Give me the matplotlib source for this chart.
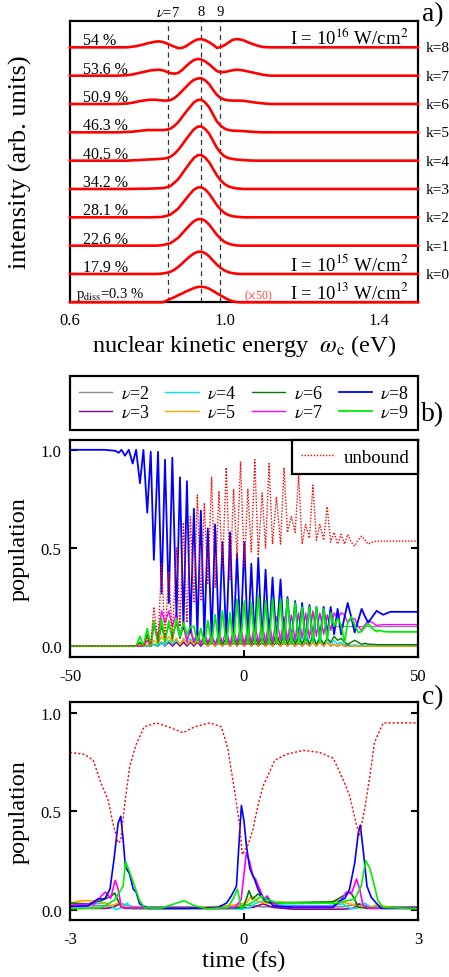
import matplotlib
matplotlib.use('Agg')
import matplotlib.pyplot as plt
import matplotlib.transforms as mtransforms
import numpy as np

plt.rcParams['font.family'] = ['Liberation Serif', 'DejaVu Serif']
plt.rcParams['mathtext.fontset'] = 'stix'
plt.rcParams['axes.unicode_minus'] = False

# ---------------- panel a: spectra ----------------
energy = [0.60,
          0.72, 0.73, 0.74, 0.75, 0.76, 0.77, 0.78, 0.79, 0.80, 0.81,
          0.82, 0.83, 0.84, 0.85, 0.86, 0.87, 0.88, 0.89, 0.90, 0.91,
          0.92, 0.93, 0.94, 0.95, 0.96, 0.97, 0.98, 0.99, 1.00, 1.01,
          1.02, 1.03, 1.04, 1.05, 1.06, 1.07, 1.08, 1.09, 1.10, 1.11,
          1.12, 1.50]
spec_low = [0,
            0, 0, 0, 0, 0, 0, 0, 0, 0, 0,
            0, 0, 0, .06, .12, .18, .25, .31, .38, .44,
            .50, .54, .55, .53, .48, .40, .32, .24, .16, .09,
            .04, .01, 0, 0, 0, 0, 0, 0, 0, 0,
            0, 0]
spec_k0 = [0,
           0, 0, 0, 0, 0, 0, 0, 0, 0, 0,
           0, .005, .02, .04, .08, .15, .25, .37, .50, .62,
           .72, .78, .79, .73, .62, .47, .33, .21, .12, .06,
           .03, .01, 0, 0, 0, 0, 0, 0, 0, 0,
           0, 0]
spec_k1 = [0,
           0, 0, 0, 0, 0, 0, 0, 0, 0, 0,
           0, .005, .02, .05, .09, .18, .28, .43, .58, .73,
           .86, .93, .94, .87, .74, .56, .38, .24, .13, .07,
           .03, .01, 0, 0, 0, 0, 0, 0, 0, 0,
           0, 0]
spec_k2 = [0,
           0, 0, 0, 0, 0, 0, 0, 0, 0, 0,
           .005, .01, .02, .05, .10, .20, .31, .48, .65, .82,
           .97, 1.05, 1.06, .98, .83, .63, .43, .27, .15, .08,
           .04, .02, .01, 0, 0, 0, 0, 0, 0, 0,
           0, 0]
spec_k3 = [0,
           0, 0, 0, 0, .005, .005, .01, .01, .01, .015,
           .02, .025, .03, .06, .11, .22, .35, .54, .73, .92,
           1.09, 1.19, 1.20, 1.10, .94, .71, .48, .30, .17, .09,
           .05, .02, .01, 0, 0, 0, 0, 0, 0, 0,
           0, 0]
spec_k4 = [0,
           0, 0, 0, 0, .01, .015, .02, .03, .04, .045,
           .05, .06, .07, .09, .14, .24, .38, .56, .75, .93,
           1.10, 1.20, 1.21, 1.11, .95, .70, .45, .27, .15, .09,
           .06, .04, .03, .02, .01, .005, 0, 0, 0, 0,
           0, 0]
spec_k5 = [0,
           0, 0, .01, .015, .02, .035, .05, .065, .08, .08,
           .08, .08, .08, .09, .13, .23, .36, .54, .72, .89,
           1.05, 1.14, 1.15, 1.05, .88, .63, .38, .23, .13, .08,
           .06, .055, .05, .04, .03, .02, .01, .005, 0, 0,
           0, 0]
spec_k6 = [0,
           0, .005, .01, .02, .04, .07, .10, .12, .14, .15,
           .15, .14, .12, .12, .14, .21, .32, .46, .60, .74,
           .85, .90, .91, .83, .70, .50, .32, .21, .15, .13,
           .12, .12, .12, .11, .09, .07, .05, .035, .02, .01,
           0, 0]
spec_k7 = [0,
           0, .005, .01, .02, .04, .07, .10, .13, .16, .19,
           .20, .21, .19, .14, .09, .07, .10, .20, .33, .45,
           .55, .59, .57, .50, .40, .28, .16, .12, .13, .16,
           .19, .21, .20, .18, .15, .12, .09, .06, .03, .01,
           0, 0]
spec_k8 = [0,
           0, 0, 0, .005, .02, .04, .07, .10, .14, .17,
           .20, .21, .19, .14, .08, .02, -.03, -.02, .04, .13,
           .22, .28, .29, .25, .18, .09, -.02, .01, .08, .17,
           .26, .29, .28, .24, .18, .13, .08, .04, .01, .005,
           0, 0]
spectra = [spec_low, spec_k0, spec_k1, spec_k2, spec_k3, spec_k4, spec_k5, spec_k6, spec_k7, spec_k8]
p_diss = ['17.9 %', '22.6 %', '28.1 %', '34.2 %', '40.5 %', '46.3 %', '50.9 %', '53.6 %', '54 %']
k_labels = ['k=0', 'k=1', 'k=2', 'k=3', 'k=4', 'k=5', 'k=6', 'k=7', 'k=8']
nu_energy = [0.854, 0.940, 0.989]
nu_energy_labels = [r'$\nu$=7', '8', '9']

# ---------------- panel b: populations, long time ----------------
t_b = [-50, -40, -37, -36, -35.2, -34.2, -33.1, -32.0, -31.0, -29.9,
       -28.9, -27.8, -26.8, -25.9, -24.7, -23.7, -22.7, -21.6, -20.6, -19.4,
       -18.4, -17.4, -16.4, -15.4, -14.4, -13.4, -12.4, -11.4, -10.4, -9.3,
       -8.3, -7.2, -6.2, -5.1, -4.0, -3.0, -2.0, -1.0, 0.1, 1.1,
       2.1, 3.1, 4.1, 5.2, 6.2, 7.2, 8.2, 9.3, 10.5, 11.5,
       12.5, 13.6, 14.7, 15.7, 16.7, 17.7, 18.8, 19.8, 20.8, 21.8,
       22.9, 23.9, 24.9, 25.9, 26.9, 27.9, 28.9, 29.8, 30.8, 31.8,
       32.8, 33.8, 34.8, 35.7, 36.9, 38.1, 39.0, 40.0, 42.0, 50.0]
pop_b_nu8 = [1.0, 1.0, 0.995, 0.985, 1.0, 0.97, 1.0, 0.93, 1.0, 0.83,
             1.0, 0.68, 0.99, 0.44, 0.99, 0.27, 0.95, 0.22, 0.96, 0.15,
             0.86, 0.09, 0.84, 0.07, 0.70, 0.06, 0.69, 0.05, 0.60, 0.04,
             0.62, 0.04, 0.53, 0.03, 0.58, 0.03, 0.47, 0.03, 0.53, 0.02,
             0.42, 0.02, 0.45, 0.02, 0.39, 0.02, 0.35, 0.02, 0.34, 0.02,
             0.25, 0.02, 0.23, 0.03, 0.22, 0.03, 0.21, 0.03, 0.20, 0.04,
             0.20, 0.05, 0.20, 0.06, 0.19, 0.06, 0.15, 0.22, 0.15, 0.07,
             0.13, 0.19, 0.15, 0.12, 0.15, 0.18, 0.17, 0.16, 0.175, 0.175]
pop_b_unbound = [0, 0, 0, 0, 0, 0.003, 0, 0.005, 0, 0.01,
                 0, 0.04, 0.01, 0.20, 0.02, 0.42, 0.04, 0.38, 0.04, 0.50,
                 0.10, 0.63, 0.12, 0.66, 0.22, 0.77, 0.23, 0.73, 0.32, 0.86,
                 0.30, 0.79, 0.39, 0.91, 0.34, 0.80, 0.45, 0.94, 0.40, 0.80,
                 0.48, 0.95, 0.46, 0.78, 0.50, 0.93, 0.52, 0.76, 0.52, 0.91,
                 0.58, 0.66, 0.58, 0.87, 0.52, 0.62, 0.55, 0.82, 0.54, 0.62,
                 0.54, 0.71, 0.53, 0.58, 0.52, 0.57, 0.52, 0.57, 0.53, 0.51,
                 0.54, 0.56, 0.54, 0.52, 0.53, 0.535, 0.535, 0.535, 0.535, 0.535]
pop_b_nu9 = [0, 0, 0, 0, 0, 0, 0, 0, 0, 0.05,
             0, 0.09, 0.0, 0.13, 0.01, 0.14, 0.02, 0.13, 0.03, 0.14,
             0.05, 0.12, 0.06, 0.10, 0.10, 0.02, 0.09, 0.01, 0.13, 0.01,
             0.16, 0.01, 0.18, 0.01, 0.17, 0.01, 0.24, 0.01, 0.23, 0.01,
             0.22, 0.01, 0.26, 0.01, 0.23, 0.01, 0.24, 0.01, 0.24, 0.01,
             0.24, 0.01, 0.22, 0.01, 0.20, 0.02, 0.20, 0.02, 0.20, 0.02,
             0.19, 0.03, 0.17, 0.10, 0.14, 0.11, 0.02, 0.12, 0.15, 0.11,
             0.07, 0.075, 0.10, 0.115, 0.09, 0.075, 0.08, 0.075, 0.073, 0.073]
pop_b_nu7 = [0, 0, 0, 0, 0, 0, 0, 0, 0, 0,
             0, 0.03, 0.0, 0.10, 0.05, 0.18, 0.12, 0.18, 0.10, 0.17,
             0.05, 0.12, 0.02, 0.10, 0.02, 0.08, 0.01, 0.07, 0.02, 0.06,
             0.01, 0.07, 0.02, 0.08, 0.01, 0.09, 0.02, 0.10, 0.01, 0.10,
             0.02, 0.12, 0.02, 0.12, 0.02, 0.14, 0.02, 0.15, 0.03, 0.15,
             0.03, 0.16, 0.03, 0.17, 0.04, 0.17, 0.04, 0.18, 0.05, 0.17,
             0.06, 0.16, 0.08, 0.17, 0.14, 0.17, 0.16, 0.12, 0.14, 0.14,
             0.10, 0.08, 0.11, 0.13, 0.12, 0.105, 0.108, 0.11, 0.11, 0.11]
pop_b_nu2 = [0, 0, 0, 0, 0, 0, 0, 0, 0, 0,
             0, 0, 0, 0.01, 0.0, 0.02, 0.01, 0.03, 0.01, 0.03,
             0.01, 0.03, 0.01, 0.03, 0.01, 0.03, 0.01, 0.03, 0.01, 0.03,
             0.01, 0.03, 0.01, 0.04, 0.01, 0.04, 0.01, 0.04, 0.02, 0.05,
             0.02, 0.05, 0.02, 0.05, 0.02, 0.06, 0.03, 0.06, 0.03, 0.07,
             0.04, 0.07, 0.04, 0.08, 0.05, 0.08, 0.06, 0.09, 0.07, 0.09,
             0.08, 0.10, 0.09, 0.10, 0.10, 0.10, 0.10, 0.10, 0.10, 0.10,
             0.10, 0.10, 0.10, 0.10, 0.10, 0.10, 0.10, 0.10, 0.10, 0.10]
pop_b_nu3 = [0, 0, 0, 0, 0, 0, 0, 0, 0, 0,
             0, 0, 0, 0.01, 0.0, 0.02, 0.0, 0.02, 0.0, 0.02,
             0.0, 0.02, 0.0, 0.02, 0.0, 0.02, 0.0, 0.02, 0.0, 0.02,
             0.0, 0.02, 0.0, 0.02, 0.0, 0.02, 0.0, 0.02, 0.0, 0.02,
             0.0, 0.02, 0.0, 0.02, 0.0, 0.02, 0.0, 0.02, 0.0, 0.02,
             0.0, 0.02, 0.0, 0.02, 0.0, 0.02, 0.0, 0.02, 0.0, 0.02,
             0.0, 0.02, 0.0, 0.01, 0.0, 0.01, 0.0, 0.005, 0.0, 0.005,
             0, 0, 0, 0, 0, 0, 0, 0, 0, 0]
pop_b_nu4 = [0, 0, 0, 0, 0, 0, 0, 0, 0, 0,
             0, 0, 0, 0.01, 0.0, 0.02, 0.0, 0.03, 0.01, 0.03,
             0.01, 0.04, 0.01, 0.04, 0.01, 0.04, 0.01, 0.05, 0.01, 0.04,
             0.01, 0.05, 0.01, 0.04, 0.01, 0.05, 0.01, 0.05, 0.01, 0.06,
             0.01, 0.06, 0.01, 0.05, 0.01, 0.06, 0.01, 0.05, 0.01, 0.06,
             0.01, 0.07, 0.01, 0.09, 0.01, 0.08, 0.01, 0.06, 0.01, 0.05,
             0.01, 0.04, 0.01, 0.03, 0.01, 0.02, 0.01, 0.01, 0.005, 0.005,
             0.005, 0.005, 0.005, 0.005, 0.005, 0.005, 0.005, 0.005, 0.005, 0.005]
pop_b_nu5 = [0, 0, 0, 0, 0, 0, 0, 0, 0, 0,
             0, 0.01, 0.0, 0.03, 0.01, 0.05, 0.02, 0.05, 0.02, 0.04,
             0.01, 0.04, 0.01, 0.03, 0.01, 0.03, 0.01, 0.03, 0.0, 0.03,
             0.0, 0.03, 0.0, 0.03, 0.0, 0.03, 0.0, 0.04, 0.0, 0.04,
             0.0, 0.04, 0.0, 0.04, 0.0, 0.04, 0.0, 0.04, 0.0, 0.03,
             0.0, 0.03, 0.0, 0.03, 0.0, 0.03, 0.0, 0.02, 0.0, 0.02,
             0.0, 0.02, 0.0, 0.01, 0.0, 0.01, 0.0, 0.0, 0.0, 0.0,
             0, 0, 0, 0, 0, 0, 0, 0, 0, 0]
pop_b_nu6 = [0, 0, 0, 0, 0, 0, 0, 0, 0, 0.02,
             0, 0.06, 0.0, 0.12, 0.02, 0.10, 0.04, 0.11, 0.05, 0.12,
             0.04, 0.10, 0.03, 0.08, 0.02, 0.06, 0.01, 0.05, 0.01, 0.05,
             0.01, 0.04, 0.01, 0.04, 0.01, 0.04, 0.01, 0.05, 0.01, 0.05,
             0.01, 0.05, 0.01, 0.05, 0.01, 0.05, 0.01, 0.06, 0.01, 0.06,
             0.01, 0.06, 0.01, 0.05, 0.01, 0.05, 0.01, 0.05, 0.01, 0.04,
             0.01, 0.04, 0.02, 0.05, 0.03, 0.04, 0.02, 0.01, 0.02, 0.03,
             0.02, 0.01, 0.015, 0.01, 0.01, 0.008, 0.008, 0.008, 0.008, 0.008]

# ---------------- panel c: populations, zoom around t=0 ----------------
t_c_unbound = [-3.0, -2.75, -2.6, -2.46, -2.345, -2.26, -2.17, -2.125, -2.06, -1.97,
               -1.86, -1.72, -1.51, -1.31, -1.05, -0.85, -0.59, -0.39, -0.28, -0.16,
               -0.075, -0.03, 0.07, 0.155, 0.24, 0.33, 0.41, 0.53, 0.73, 1.02,
               1.30, 1.54, 1.71, 1.82, 1.94, 1.99, 2.08, 2.17, 2.25, 2.40, 2.68, 3.0]
pop_c_unbound = [0.80, 0.79, 0.76, 0.64, 0.56, 0.44, 0.34, 0.35, 0.53, 0.73,
                 0.84, 0.93, 0.95, 0.93, 0.90, 0.93, 0.95, 0.93, 0.82, 0.60,
                 0.43, 0.28, 0.33, 0.41, 0.53, 0.63, 0.68, 0.76, 0.79, 0.81,
                 0.80, 0.77, 0.66, 0.58, 0.43, 0.38, 0.51, 0.68, 0.85, 0.95, 0.95, 0.95]
t_c_nu8 = [-3.0, -2.69, -2.52, -2.40, -2.31, -2.24, -2.17, -2.125, -2.085, -2.045,
           -1.97, -1.91, -1.86, -1.80, -1.65, -1.0, -0.45, -0.30, -0.22, -0.13,
           -0.075, -0.045, 0.0, 0.04, 0.10, 0.18, 0.24, 0.30, 0.36, 0.41,
           0.50, 0.85, 1.53, 1.65, 1.74, 1.82, 1.91, 1.97, 2.005, 2.06,
           2.12, 2.195, 2.28, 2.37, 3.0]
pop_c_nu8 = [0.017, 0.02, 0.055, 0.055, 0.105, 0.26, 0.44, 0.475, 0.36, 0.22,
             0.18, 0.105, 0.09, 0.03, 0.007, 0.007, 0.012, 0.034, 0.07, 0.12,
             0.39, 0.53, 0.45, 0.33, 0.21, 0.156, 0.105, 0.07, 0.054, 0.058,
             0.02, 0.012, 0.012, 0.046, 0.058, 0.105, 0.24, 0.39, 0.43, 0.29,
             0.12, 0.063, 0.034, 0.007, 0.007]
t_c_nu9 = [-3.0, -2.46, -2.23, -2.085, -2.04, -1.97, -1.885, -1.80, -1.71, -1.44,
           -1.2, -1.035, -0.85, -0.62, -0.28, -0.19, -0.115, -0.046, 0.10, 0.21,
           0.30, 0.385, 0.56, 1.13, 1.59, 1.77, 1.91, 2.02, 2.10, 2.17,
           2.25, 2.31, 2.40, 3.0]
pop_c_nu9 = [0.005, 0.01, 0.05, 0.12, 0.244, 0.19, 0.12, 0.046, 0.01, 0.007,
             0.03, 0.046, 0.02, 0.005, 0.012, 0.054, 0.105, 0.012, 0.03, 0.05,
             0.07, 0.054, 0.037, 0.034, 0.034, 0.046, 0.054, 0.12, 0.25, 0.21,
             0.12, 0.046, 0.012, 0.005]
t_c_nu7 = [-3.0, -2.575, -2.46, -2.39, -2.30, -2.22, -2.17, -2.115, -1.885, -0.45,
           -0.16, -0.05, 0.04, 0.10, 0.155, 0.20, 0.27, 0.34, 0.40, 0.47,
           0.615, 1.535, 1.65, 1.765, 1.85, 1.94, 1.995, 2.05, 2.17, 3.0]
pop_c_nu7 = [0.024, 0.03, 0.07, 0.09, 0.058, 0.15, 0.105, 0.012, 0.01, 0.007,
             0.012, 0.05, 0.29, 0.24, 0.17, 0.156, 0.105, 0.058, 0.07, 0.037,
             0.017, 0.017, 0.037, 0.09, 0.08, 0.156, 0.105, 0.024, 0.007, 0.007]
t_c_nu6 = [-3.0, -2.69, -2.46, -2.29, -2.23, -2.17, -2.115, -1.9, -0.3, -0.02,
           0.04, 0.086, 0.144, 0.24, 0.30, 0.356, 0.443, 0.845, 1.535, 1.707,
           1.834, 1.908, 1.966, 2.28, 2.57, 3.0]
pop_c_nu6 = [0.034, 0.03, 0.046, 0.07, 0.085, 0.046, 0.012, 0.007, 0.007, 0.012,
             0.054, 0.097, 0.054, 0.08, 0.07, 0.046, 0.034, 0.037, 0.04, 0.07,
             0.09, 0.054, 0.012, 0.007, 0.012, 0.005]
t_c_nu5 = [-3.0, -2.8, -2.575, -2.4, -2.29, -2.17, -2.057, -1.31, -0.45, -0.16,
           0.04, 0.126, 0.213, 0.30, 0.443, 0.615, 0.845, 1.42, 1.592, 1.765,
           1.966, 2.17, 2.28, 2.57, 3.0]
pop_c_nu5 = [0.034, 0.046, 0.046, 0.034, 0.02, 0.034, 0.012, 0.007, 0.017, 0.024,
             0.034, 0.07, 0.046, 0.037, 0.034, 0.04, 0.034, 0.037, 0.046, 0.034,
             0.02, 0.012, 0.024, 0.012, 0.007]
t_c_nu4 = [-3.0, -2.575, -2.37, -2.26, -2.2, -2.086, -2.012, -1.94, -0.45, -0.017,
           0.098, 0.184, 0.328, 0.443, 0.673, 1.42, 1.707, 1.822, 1.937, 2.08,
           2.195, 3.0]
pop_c_nu4 = [0.017, 0.03, 0.034, 0.012, 0.0, 0.017, 0.034, 0.007, 0.007, 0.003,
             0.012, 0.03, 0.046, 0.034, 0.024, 0.02, 0.03, 0.007, 0.007, 0.034,
             0.012, 0.007]
t_c_nu3 = [-3.0, -2.4, -2.25, -2.15, -2.06, -0.27, 0.155, 0.33, 0.5, 0.85,
           1.7, 1.88, 1.99, 2.1, 3.0]
pop_c_nu3 = [0.007, 0.007, 0.012, 0.03, 0.007, 0.007, 0.012, 0.03, 0.012, 0.003,
             0.003, 0.007, 0.03, 0.007, 0.012]
t_c_nu2 = [-3.0, -2.3, -2.1, -1.9, -0.2, 0.05, 0.3, 1.7, 1.95, 2.2, 3.0]
pop_c_nu2 = [0.02, 0.02, 0.03, 0.015, 0.015, 0.025, 0.015, 0.015, 0.03, 0.015, 0.015]

nu_names = [r'$\nu$=2', r'$\nu$=3', r'$\nu$=4', r'$\nu$=5',
            r'$\nu$=6', r'$\nu$=7', r'$\nu$=8', r'$\nu$=9']
nu_colors = ['#8c8c8c', '#8b008b', '#00e5ee', '#ffa500',
             '#007a00', '#ff00ff', '#0000ff', '#00ee00']

W, H = 449, 978
fig = plt.figure(figsize=(W / 100, H / 100), dpi=100)


def style_spines(ax):
    for s in ax.spines.values():
        s.set_linewidth(1.6)


# ---- panel a ----
axa = fig.add_axes([70 / W, 1 - 303.3 / H, 348 / W, 281.3 / H])
for i, vals in enumerate(spectra):
    axa.plot(energy, i + np.array(vals), color='#ff0000', lw=1.9,
             clip_on=False, zorder=4, solid_joinstyle='round')
for x in nu_energy:
    axa.axvline(x, color='#333333', ls=(0, (4, 3)), lw=0.9, zorder=2)
axa.set_xlim(0.6, 1.5)
axa.set_ylim(0, 9.93)
axa.set_xticks([0.6, 1.0, 1.4])
axa.set_xticklabels(['0.6', '1.0', '1.4'])
axa.set_yticks([])
axa.tick_params(axis='x', length=0, pad=7, labelsize=12)
style_spines(axa)
axa.set_xlabel(r'nuclear kinetic energy  $\omega_{\rm c}$ (eV)', fontsize=17.5)
axa.xaxis.set_label_coords(0.5, -0.105)
axa.set_ylabel('intensity (arb. units)', fontsize=19)
axa.yaxis.set_label_coords(-0.11, 0.5)

bl = mtransforms.blended_transform_factory(axa.transData, axa.transAxes)
for x, lab in zip(nu_energy, nu_energy_labels):
    axa.text(x, 1.033, lab, transform=bl, ha='center', va='center', fontsize=10.5)

br = mtransforms.blended_transform_factory(axa.transAxes, axa.transData)
for i, (pd, kl) in enumerate(zip(p_diss, k_labels)):
    off = i + 1
    axa.text(0.634, off + 0.11, pd, ha='left', va='baseline', fontsize=11.5)
    axa.text(1.022, off - 0.02, kl, transform=br, ha='left', va='center', fontsize=11)
axa.text(0.615, 0.17, r'p$_{\rm diss}$=0.3 %', ha='left', va='baseline', fontsize=10.5)
axa.text(1.088, 0.25, r'($\times$50)', ha='center', va='center', fontsize=8.5, color='#ff4040')
axa.text(1.475, 9.12, r'I = 10$^{16}$ W/cm$^{2}$', ha='right', va='baseline', fontsize=13.5)
axa.text(1.475, 1.15, r'I = 10$^{15}$ W/cm$^{2}$', ha='right', va='baseline', fontsize=13.5)
axa.text(1.475, 0.15, r'I = 10$^{13}$ W/cm$^{2}$', ha='right', va='baseline', fontsize=13.5)

# ---- panel b ----
axb = fig.add_axes([70 / W, 1 - 658 / H, 348 / W, 217 / H])
pops_b = [pop_b_nu2, pop_b_nu3, pop_b_nu4, pop_b_nu5,
          pop_b_nu6, pop_b_nu7, pop_b_nu8, pop_b_nu9]
handles = []
for vals, c, name in zip(pops_b, nu_colors, nu_names):
    lw = 1.3 if name in (r'$\nu$=8', r'$\nu$=9') else 1.0
    h, = axb.plot(t_b, vals, color=c, lw=lw, label=name)
    handles.append(h)
hu, = axb.plot(t_b, pop_b_unbound, color='#ff0000', lw=1.0, ls=(0, (1, 1.2)), label='unbound')
axb.set_xlim(-50, 50)
axb.set_ylim(-0.055, 1.05)
axb.set_xticks([-50, 0, 50])
axb.set_xticklabels(['-50', '0', '50'])
axb.set_yticks([0, 0.5, 1.0])
axb.set_yticklabels(['0.0', '0.5', '1.0'])
axb.tick_params(direction='in', length=5, width=1.5, right=True, labelsize=12)
axb.tick_params(axis='x', pad=8)
axb.tick_params(axis='y', pad=6)
style_spines(axb)
axb.set_ylabel('population', fontsize=17.5)
axb.yaxis.set_label_coords(-0.115, 0.5)
leg_u = axb.legend(handles=[hu], loc='upper right', borderaxespad=0, fontsize=13.5,
                   fancybox=False, edgecolor='k', framealpha=1,
                   handlelength=1.8, handletextpad=0.5, borderpad=0.45)
leg_u.get_frame().set_linewidth(1.6)

leg_nu = fig.legend(handles=handles, loc='lower left', ncol=4, mode='expand',
                    bbox_to_anchor=(70 / W, 1 - 431 / H, 348 / W, 57 / H),
                    borderaxespad=0, fontsize=13, fancybox=False, edgecolor='k',
                    framealpha=1, handlelength=1.85, handletextpad=0.45,
                    columnspacing=0.6, labelspacing=0.1, borderpad=0.5)
leg_nu.get_frame().set_linewidth(1.6)

# ---- panel c ----
axc = fig.add_axes([70 / W, 1 - 921 / H, 348 / W, 218 / H])
series_c = [(t_c_nu2, pop_c_nu2), (t_c_nu3, pop_c_nu3), (t_c_nu4, pop_c_nu4),
            (t_c_nu5, pop_c_nu5), (t_c_nu6, pop_c_nu6), (t_c_nu7, pop_c_nu7),
            (t_c_nu8, pop_c_nu8), (t_c_nu9, pop_c_nu9)]
for (tt, vals), c, name in zip(series_c, nu_colors, nu_names):
    axc.plot(tt, vals, color=c, lw=1.2)
axc.plot(t_c_unbound, pop_c_unbound, color='#ff0000', lw=1.0, ls=(0, (1.5, 1.5)))
axc.set_xlim(-3, 3)
axc.set_ylim(-0.052, 1.056)
axc.set_xticks([-3, 0, 3])
axc.set_xticklabels(['-3', '0', '3'])
axc.set_yticks([0, 0.5, 1.0])
axc.set_yticklabels(['0.0', '0.5', '1.0'])
axc.tick_params(direction='in', length=5, width=1.5, right=True, labelsize=12)
axc.tick_params(axis='x', pad=8)
axc.tick_params(axis='y', pad=6)
style_spines(axc)
axc.set_ylabel('population', fontsize=17.5)
axc.yaxis.set_label_coords(-0.115, 0.5)
axc.set_xlabel('time (fs)', fontsize=17.5)
axc.xaxis.set_label_coords(0.5, -0.135)

for lab, y in [('a)', 15), ('b)', 415), ('c)', 698)]:
    fig.text(433 / W, 1 - y / H, lab, ha='center', va='center', fontsize=20)

fig.savefig('out.png', dpi=100)
